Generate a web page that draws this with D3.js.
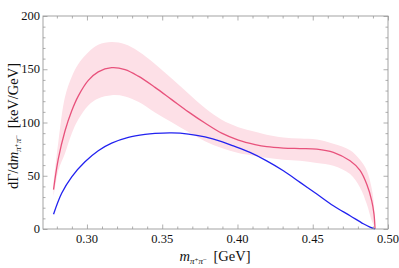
<!DOCTYPE html>
<html><head><meta charset="utf-8">
<script src="https://cdn.jsdelivr.net/npm/d3@7"></script>
<style>body{margin:0;background:#fff}svg{display:block}text{font-family:"Liberation Serif","Times New Roman","DejaVu Serif",serif}</style>
</head><body>
<svg id="c" width="399" height="268"></svg>
<script>
// Pink band (central value with uncertainty), mass in GeV, rate in keV/GeV
const pinkMass = [0.2778,0.281,0.2854,0.2899,0.2943,0.3009,0.3075,0.3164,0.3253,0.3341,0.3452,0.3563,0.3674,0.3784,0.3895,0.4006,0.4117,0.4194,0.4305,0.4416,0.4527,0.4637,0.4748,0.4814,0.4859,0.4892,0.4907,0.4914];
const pinkCentral = [37,66,92,111,125,139.5,147.5,151.5,149.7,143.5,133,121.5,110,99.5,90,83.5,79.3,77.3,76,75.5,75,72,64,55,42,26.5,14,0];
const pinkUpper = [44,82,124,143,155,166,173,175.6,173.5,167,155,141.3,127.2,113.5,102.5,95.5,91.2,88.5,86,85,84,80,74,65,55,38,22,0];
const pinkLower = [30,55,71,89.7,103,116,122.5,125.6,124.5,119.5,109.5,100.3,91,82.5,76,71.3,68.6,66.8,65,64,62,59.4,51.6,39,23.4,7.8,3,0];
// Blue curve
const blueMass = [0.2778,0.2832,0.2899,0.2987,0.3075,0.3164,0.3275,0.3386,0.3452,0.3563,0.3674,0.3784,0.3895,0.3973,0.4083,0.4194,0.4305,0.4416,0.4527,0.4637,0.4748,0.4836,0.4880,0.4914];
const blueValues = [13.8,33.5,49,63.1,73.5,80.6,86,88.8,89.7,90.2,89.1,86.4,82,78,71.9,64,54.7,43.8,32.8,21.8,12.5,4.9,1.8,0];
// Axes
const xTicks = [0.30,0.35,0.40,0.45,0.50];
const xTickLabels = ["0.30","0.35","0.40","0.45","0.50"];
const yTicks = [0,50,100,150,200];
const yTickLabels = ["0","50","100","150","200"];
const xDomain = [0.2708,0.50];
const yDomain = [0,200];

const svg = d3.select("#c");
const L=43, R=388, T=16, B=229;
const x = d3.scaleLinear().domain(xDomain).range([L,R]);
const y = d3.scaleLinear().domain(yDomain).range([B,T]);
const font = "Liberation Serif";
const curve = d3.curveCatmullRom.alpha(0.5);

const band = pinkMass.map((m,i)=>({m, lo:pinkLower[i], hi:pinkUpper[i], c:pinkCentral[i]}));
svg.append("path").datum(band)
  .attr("d", d3.area().x(d=>x(d.m)).y0(d=>y(d.lo)).y1(d=>y(d.hi)).curve(curve))
  .attr("fill","#fde0e7").attr("stroke","none");
svg.append("path").datum(band)
  .attr("d", d3.line().x(d=>x(d.m)).y(d=>y(d.c)).curve(curve))
  .attr("fill","none").attr("stroke","#e8527c").attr("stroke-width",1.3);
const blue = blueMass.map((m,i)=>({m, v:blueValues[i]}));
svg.append("path").datum(blue)
  .attr("d", d3.line().x(d=>x(d.m)).y(d=>y(d.v)).curve(curve))
  .attr("fill","none").attr("stroke","#2222f0").attr("stroke-width",1.3);

// Frame with inward ticks
const frameCol = "#9a9a9a";
const xMinor = d3.range(0.28,0.5001,0.01).map(v=>+v.toFixed(2));
const yMinor = d3.range(10,200,10);
function styleAxis(g){ g.select(".domain").remove(); g.selectAll("line").attr("stroke",frameCol).attr("stroke-width",0.8); g.selectAll("text").remove(); }
[[B,d3.axisBottom],[T,d3.axisTop]].forEach(([py,ax])=>{
  svg.append("g").attr("transform",`translate(0,${py})`).call(ax(x).tickValues(xMinor.filter(v=>!xTicks.some(t=>Math.abs(t-v)<1e-6))).tickSize(-2.5)).call(styleAxis);
  svg.append("g").attr("transform",`translate(0,${py})`).call(ax(x).tickValues(xTicks).tickSize(-4.5)).call(styleAxis);
});
[[L,d3.axisLeft],[R,d3.axisRight]].forEach(([px,ax])=>{
  svg.append("g").attr("transform",`translate(${px},0)`).call(ax(y).tickValues(yMinor.filter(v=>v%50)).tickSize(-2.5)).call(styleAxis);
  svg.append("g").attr("transform",`translate(${px},0)`).call(ax(y).tickValues(yTicks).tickSize(-4.5)).call(styleAxis);
});
svg.append("rect").attr("x",L).attr("y",T).attr("width",R-L).attr("height",B-T)
  .attr("fill","none").attr("stroke",frameCol).attr("stroke-width",0.9);

// Tick labels
xTicks.forEach((t,i)=>svg.append("text").attr("x",x(t)).attr("y",B+14).attr("text-anchor","middle")
  .attr("font-family",font).attr("font-size",12.5).attr("fill","#111").text(xTickLabels[i]));
yTicks.forEach((t,i)=>svg.append("text").attr("x",L-3).attr("y",y(t)+4).attr("text-anchor","end")
  .attr("font-family",font).attr("font-size",12.5).attr("fill","#111").text(yTickLabels[i]));

// Axis titles
const xl = svg.append("text").attr("x",215).attr("y",261).attr("text-anchor","middle")
  .attr("font-family",font).attr("font-size",14.5).attr("fill","#111");
xl.append("tspan").attr("font-style","italic").text("m");
xl.append("tspan").attr("font-size",9).attr("dy",3).attr("font-style","italic").text("π");
xl.append("tspan").attr("font-size",7).attr("dy",-2.5).text("+");
xl.append("tspan").attr("font-size",9).attr("dy",2.5).attr("font-style","italic").text("π");
xl.append("tspan").attr("font-size",7).attr("dy",-2.5).text("−");
xl.append("tspan").attr("dy",-0.5).text("\u2009 [GeV]");

const yl = svg.append("text").attr("transform","translate(18,126) rotate(-90)").attr("text-anchor","middle")
  .attr("font-family",font).attr("font-size",14.5).attr("fill","#111");
yl.append("tspan").text("dΓ/d");
yl.append("tspan").attr("font-style","italic").text("m");
yl.append("tspan").attr("font-size",9).attr("dy",3).attr("font-style","italic").text("π");
yl.append("tspan").attr("font-size",7).attr("dy",-2.5).text("+");
yl.append("tspan").attr("font-size",9).attr("dy",2.5).attr("font-style","italic").text("π");
yl.append("tspan").attr("font-size",7).attr("dy",-2.5).text("−");
yl.append("tspan").attr("dy",-0.5).text("\u2009 [keV/GeV]");
</script>
</body></html>
